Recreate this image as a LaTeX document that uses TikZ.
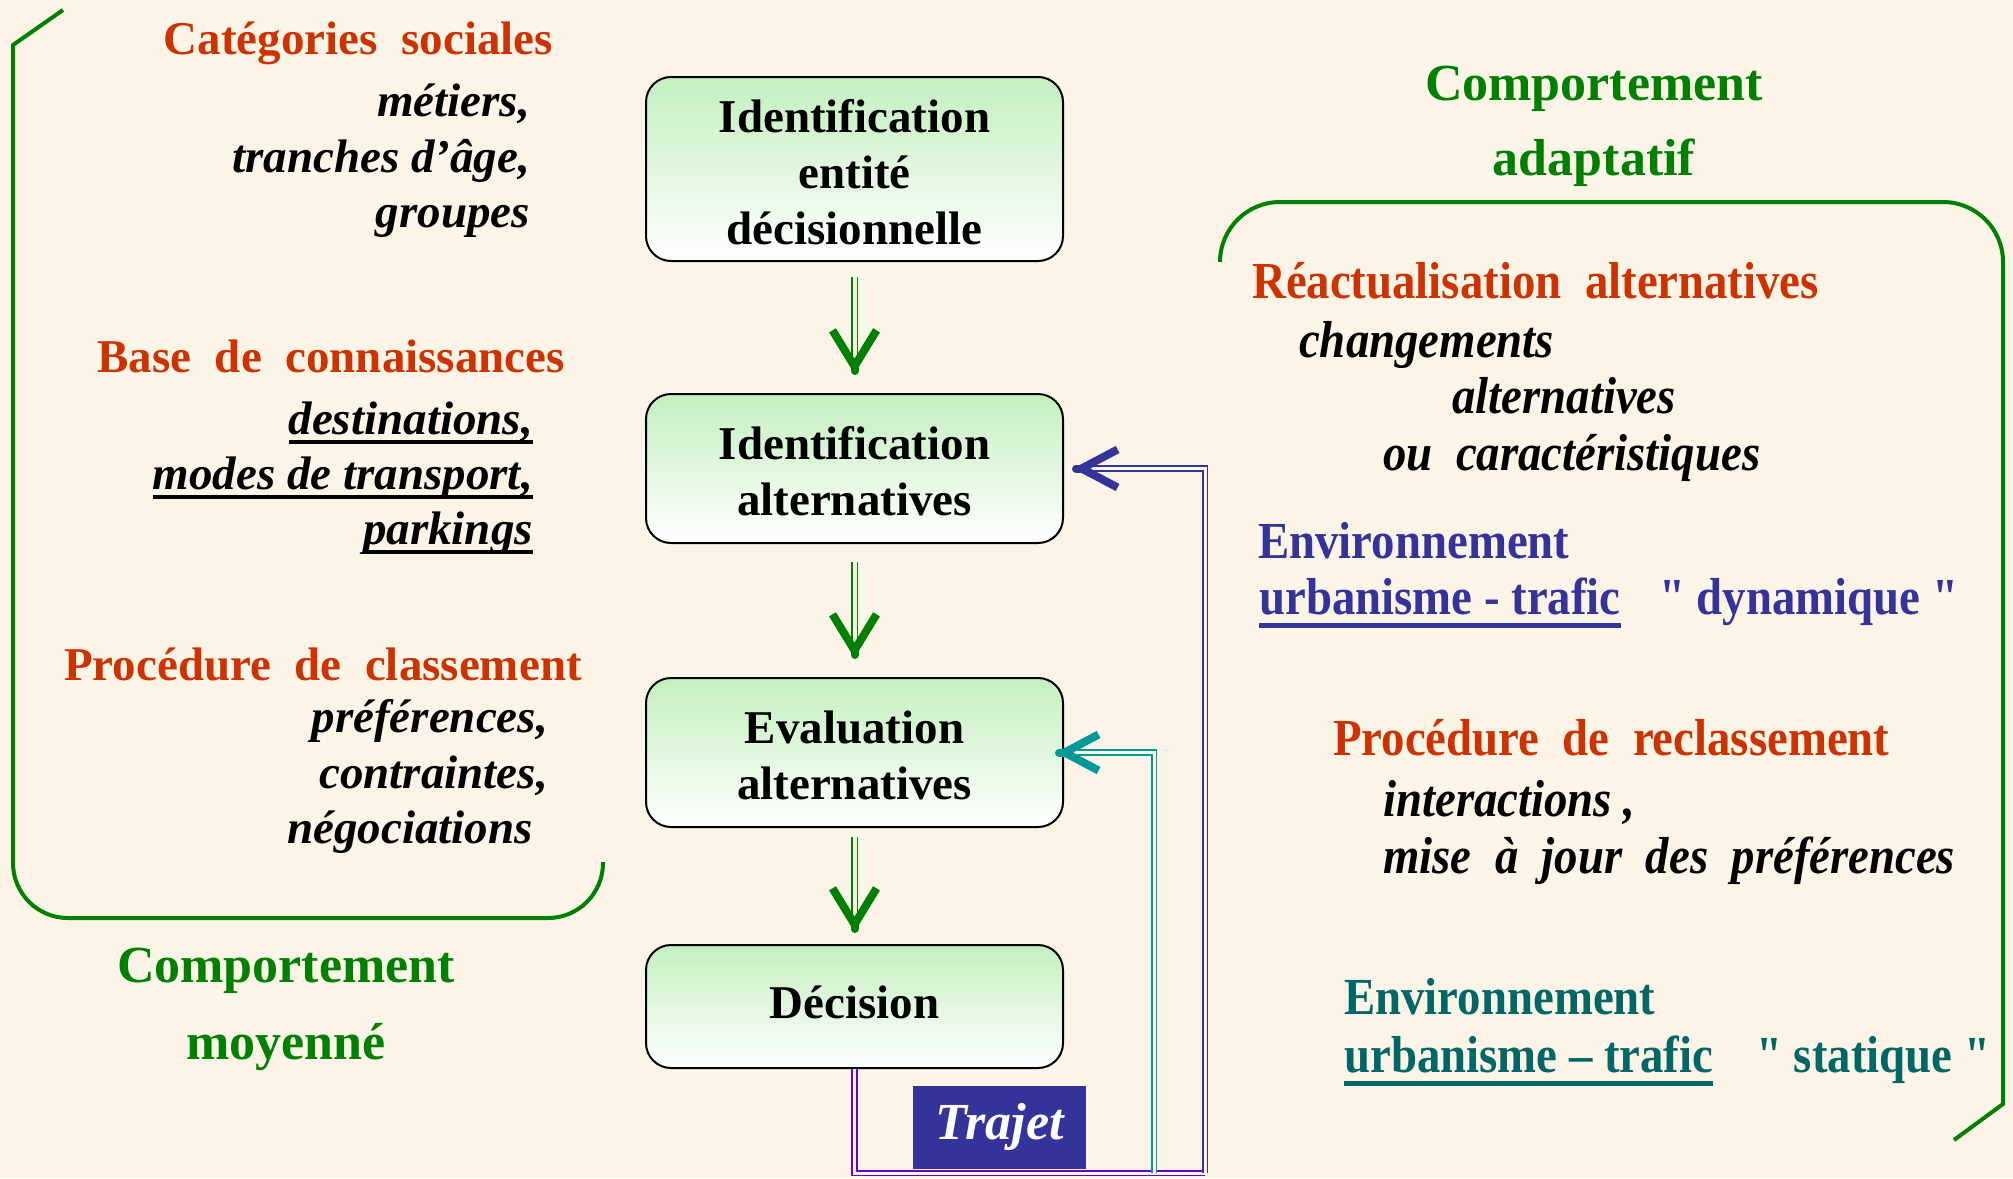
\documentclass[tikz,border=0pt]{standalone}
\usepackage{fontspec}
\setmainfont{Liberation Serif}
\newfontfamily\condf[FakeStretch=0.9]{Liberation Serif}
\usetikzlibrary{arrows.meta,calc}
\definecolor{bg}{HTML}{FDF4E8}
\definecolor{org}{HTML}{CC3300}
\definecolor{grn}{HTML}{008000}
\definecolor{blu}{HTML}{333399}
\definecolor{tealT}{HTML}{006666}
\definecolor{tealL}{HTML}{009999}
\definecolor{purp}{HTML}{6600CC}
\definecolor{boxg}{HTML}{C4EFBF}
\newcommand\myul[3]{\setbox0=\hbox{#3}\rlap{\rule[#1]{\wd0}{#2}}\box0}
\begin{document}
\begin{tikzpicture}[x=1pt,y=-1pt,
  box/.style={draw=black, line width=2pt, rounded corners=25pt, top color=boxg, bottom color=white,
    minimum width=417pt, inner sep=0pt, align=center, font=\bfseries\fontsize{47}{56}\selectfont},
  hdrL/.style={text=org, inner sep=0pt, font=\bfseries\fontsize{47}{56}\selectfont},
  itL/.style={text=black, inner sep=0pt, font=\bfseries\itshape\fontsize{47}{56}\selectfont},
  hdrR/.style={inner sep=0pt, font=\condf\bfseries\fontsize{52}{56}\selectfont},
  itR/.style={text=black, inner sep=0pt, font=\condf\bfseries\itshape\fontsize{52}{56}\selectfont},
  ttl/.style={text=grn, inner sep=0pt, font=\bfseries\fontsize{52}{75}\selectfont},
  bracket/.style={draw=grn, line width=4pt},
  dbl/.style={double=bg, double distance=3pt, line width=1.8pt},
  gdbl/.style={draw=grn, double=bg, double distance=4pt, line width=1.8pt},
  tiphead/.style={line width=8pt, line cap=round, line join=round},
  gtip/.style={tiphead, draw=grn, -{Straight Barb[length=36pt,width=44pt]}}
]
\fill[bg] (0,0) rectangle (2013,1178);
\useasboundingbox (0,0) rectangle (2013,1178);

% brackets
\draw[bracket] (63,10) -- (13,45) -- (13,200) [rounded corners=55pt] -- (13,918) -- (603,918) -- (603,862);
\draw[bracket] (1220,262) [rounded corners=60pt] -- (1220,202) -- (2003,202) -- (2003,400) [sharp corners] -- (2003,1104) -- (1954,1140);

% boxes
\node[box, minimum height=184pt] (b1) at (854.5,169) {\rule{0pt}{40pt}Identification\\entité\\décisionnelle};
\node[box, minimum height=149pt] (b2) at (854.5,468.5) {\rule{0pt}{38pt}Identification\\alternatives};
\node[box, minimum height=149pt] (b3) at (854.5,752.5) {\rule{0pt}{38pt}Evaluation\\alternatives};
\node[box, minimum height=123pt] (b4) at (854.5,1006.5) {\rule[-8pt]{0pt}{8pt}Décision};

% green arrows
\draw[gdbl] ($(b1.south)+(0,15)$) -- ($(b2.north)+(0,-24)$);
\draw[gtip] ($(b2.north)+(0,-22)$) -- ($(b2.north)+(0,-19)$);
\draw[gdbl] ($(b2.south)+(0,18)$) -- ($(b3.north)+(0,-24)$);
\draw[gtip] ($(b3.north)+(0,-22)$) -- ($(b3.north)+(0,-19)$);
\draw[gdbl] ($(b3.south)+(0,9)$) -- ($(b4.north)+(0,-17)$);
\draw[gtip] ($(b4.north)+(0,-15)$) -- ($(b4.north)+(0,-12)$);

% feedback loops
\coordinate (ybot) at (0,1173);
\coordinate (xb) at (1205,0);
\coordinate (xt) at (1154,0);
\draw[dbl, draw=purp] (b4.south) -- (b4.south |- ybot) -- (xb |- ybot);
\draw[dbl, draw=blu] (xb |- ybot) -- (xb |- b2.east) -- ($(b2.east)+(14,0)$);
\draw[tiphead, draw=blu, -{Straight Barb[length=36pt,width=38pt]}] ($(b2.east)+(12,0)$) -- ($(b2.east)+(9,0)$);
\draw[dbl, draw=tealL] (xt |- ybot) -- (xt |- b3.east) -- ($(b3.east)+(-3,0)$);
\draw[tiphead, draw=tealL, -{Straight Barb[length=34pt,width=36pt]}] ($(b3.east)+(-5,0)$) -- ($(b3.east)+(-8,0)$);

\node[fill=blu, text=white, minimum width=173pt, minimum height=83pt, inner sep=0pt,
  font=\bfseries\itshape\fontsize{52}{60}\selectfont] (traj) at (999.5,1127) {Trajet};

% left texts
\node[hdrL, anchor=base east] (cat) at (553,54) {Catégories~~sociales};
\node[itL, anchor=base east] (met) at (530,116) {métiers,};
\node[itL, anchor=base east] (tra) at (530,172) {tranches d’âge,};
\node[itL, anchor=base east] (gro) at (530,227) {groupes};

\node[hdrL, anchor=base east] (base) at (565,372) {Base~~de~~connaissances};
\node[itL, anchor=base east] (dest) at (533,434) {\myul{-10pt}{4pt}{destinations,}};
\node[itL, anchor=base east] (modes) at (533,489) {\myul{-10pt}{4pt}{modes de transport,}};
\node[itL, anchor=base east] (park) at (533,544) {\myul{-10pt}{4pt}{parkings}};

\node[hdrL, anchor=base east] (proc) at (582,680) {Procédure~~de~~classement};
\node[itL, anchor=base east] (pref) at (548,732) {préférences,};
\node[itL, anchor=base east] (cont) at (548,788) {contraintes,};
\node[itL, anchor=base east] (neg) at (533,843) {négociations};

\node[ttl, anchor=base] (cm1) at (286,982) {Comportement};
\node[ttl, anchor=base] (cm2) at (286,1059) {moyenné};

% right texts
\node[ttl, anchor=base] (ca1) at (1594,100) {Comportement};
\node[ttl, anchor=base] (ca2) at (1594,175) {adaptatif};

\node[hdrR, text=org, anchor=base west] (reac) at (1252,298) {Réactualisation~~alternatives};
\node[itR, anchor=base west] (chg) at (1299,357) {changements};
\node[itR, anchor=base west] (alt) at (1452,413) {alternatives};
\node[itR, anchor=base west] (ouc) at (1383,470) {ou~~caractéristiques};

\node[hdrR, text=blu, anchor=base west] (env1) at (1258,558) {Environnement};
\node[hdrR, text=blu, anchor=base west] (urb1) at (1259,614) {\myul{-14pt}{5pt}{urbanisme - trafic}};
\node[hdrR, text=blu, anchor=base west] (dyn) at (1659,614) {\symbol{34} dynamique \symbol{34}};

\node[hdrR, text=org, anchor=base west] (proc2) at (1333,755) {Procédure~~de~~reclassement};
\node[itR, anchor=base west] (inter) at (1383,816) {interactions ,};
\node[itR, anchor=base west] (mise) at (1383,873) {mise~~à~~jour~~des~~préférences};

\node[hdrR, text=tealT, anchor=base west] (env2) at (1344,1014) {Environnement};
\node[hdrR, text=tealT, anchor=base west] (urb2) at (1344,1072) {\myul{-14pt}{5pt}{urbanisme – trafic}};
\node[hdrR, text=tealT, anchor=base west] (stat) at (1756,1072) {\symbol{34} statique \symbol{34}};
\end{tikzpicture}
\end{document}
